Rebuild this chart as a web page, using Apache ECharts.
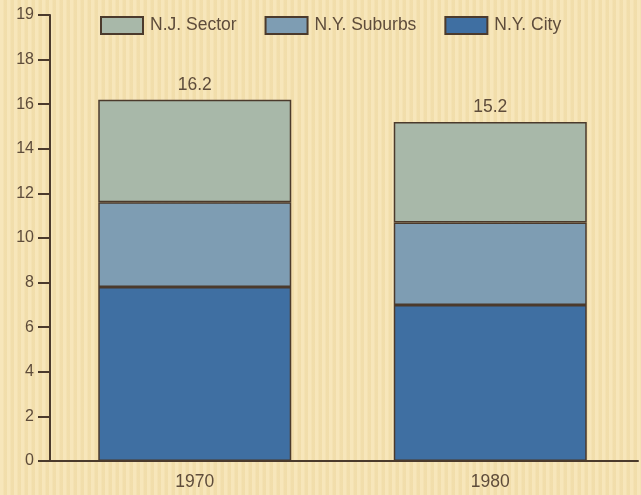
<!DOCTYPE html>
<html>
<head>
<meta charset="utf-8">
<script src="https://cdn.jsdelivr.net/npm/echarts@6/dist/echarts.min.js"></script>
<style>
html, body { margin: 0; padding: 0; }
body {
    background-color: #f6e3b1;
    background-image: repeating-linear-gradient(90deg, rgba(255,255,255,0.12) 0px, rgba(255,255,255,0.12) 3px, rgba(180,150,90,0.07) 4px, rgba(180,150,90,0.07) 7px);
}
#container { width: 641px; height: 495px; }
</style>
</head>
<body>
<div id="container"></div>
<script>
// values in millions
let years = ['1970', '1980']
let nyCity = [7.8, 7.0]
let nySuburbs = [3.8, 3.7]
let njSector = [4.6, 4.5]
let totals = [16.2, 15.2]
// the axis top is labelled 19 in the original
let yTickLabels = { 0: '0', 2: '2', 4: '4', 6: '6', 8: '8', 10: '10', 12: '12', 14: '14', 16: '16', 18: '18', 20: '19' }

const ink = '#4b3a2c'
const textColor = '#5e4c3b'
const font = 'Liberation Sans, Arial, sans-serif'

let mychart = echarts.init(document.getElementById('container'))

let options = {
    backgroundColor: 'transparent',
    legend: {
        top: 11,
        left: 95,
        icon: 'rect',
        itemWidth: 42,
        itemHeight: 17,
        itemGap: 28,
        data: ['N.J. Sector', 'N.Y. Suburbs', 'N.Y. City'],
        textStyle: {
            color: textColor,
            fontSize: 17.5,
            padding: [0, 0, 0, 2],
            fontFamily: font
        }
    },
    grid: {
        left: 47,
        right: 3,
        top: 15,
        bottom: 34
    },
    xAxis: {
        type: 'category',
        data: years,
        axisLine: { lineStyle: { color: ink, width: 2 } },
        axisTick: { show: false },
        axisLabel: {
            color: textColor,
            fontSize: 17.5,
            margin: 12,
            fontFamily: font
        }
    },
    yAxis: {
        type: 'value',
        min: 0,
        max: 20,
        interval: 2,
        offset: -3,
        axisLine: { show: true, lineStyle: { color: ink, width: 2 } },
        axisTick: { show: true, length: 12, lineStyle: { color: ink, width: 2 } },
        axisLabel: {
            color: textColor,
            fontSize: 16,
            margin: 16,
            fontFamily: font,
            formatter: v => yTickLabels[v]
        },
        splitLine: { show: false }
    },
    series: [
        {
            name: 'N.Y. City',
            type: 'bar',
            stack: 'all',
            barWidth: 193,
            data: nyCity,
            itemStyle: { color: '#3f6fa2', borderColor: ink, borderWidth: 1.5 }
        },
        {
            name: 'N.Y. Suburbs',
            type: 'bar',
            stack: 'all',
            data: nySuburbs,
            itemStyle: { color: '#7e9db3', borderColor: ink, borderWidth: 1.5 }
        },
        {
            name: 'N.J. Sector',
            type: 'bar',
            stack: 'all',
            data: njSector,
            itemStyle: { color: '#a8b8a9', borderColor: ink, borderWidth: 1.5 },
            label: {
                show: true,
                position: 'top',
                distance: 6,
                color: textColor,
                fontSize: 17.5,
                fontFamily: font,
                formatter: p => totals[p.dataIndex].toFixed(1)
            }
        }
    ]
}

mychart.setOption(options)
</script>
</body>
</html>
